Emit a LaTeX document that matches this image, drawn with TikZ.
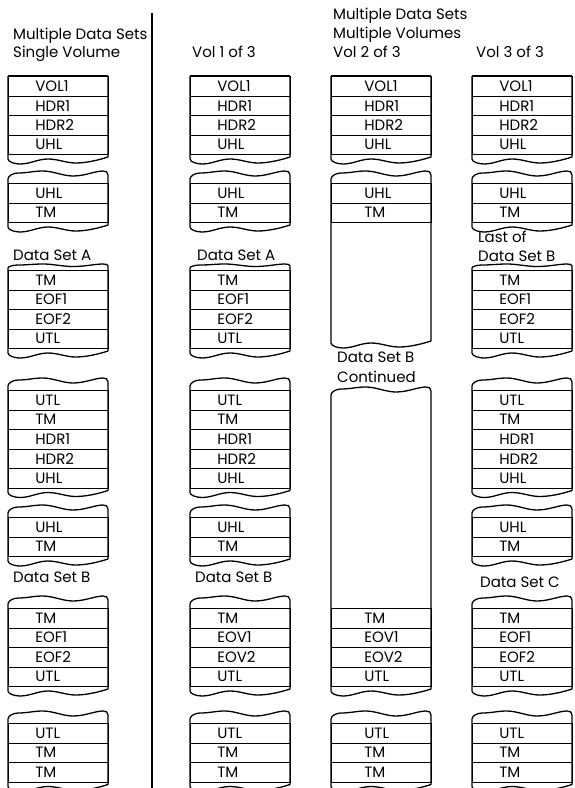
\documentclass[tikz,border=0pt]{standalone}
\usepackage{fontspec}
\setmainfont{Poppins}
\usepackage{tikz}
\usetikzlibrary{positioning}

% rows of one piece of tape, tops at 19.5pt steps
\newcommand{\rows}[4]{%
  \foreach \lab [count=\i] in {#4}
    \node[cell] (#1-\i) at (#2,{#3+19.5*(\i-1)}) {\lab};}
% torn edge above a piece of tape (#1 = depth of the tear)
\newcommand{\torntop}[3][1]{%
  \begin{scope}[shift={(#2,#3)}, yscale=#1]
  \draw[edge] (0,0) -- (0,-4) .. controls (0,-7) and (5,-10) .. (10,-10)
    .. controls (20,-10) and (25,-12) .. (35,-12)
    .. controls (45,-12) and (55,-7) .. (65,-7)
    .. controls (77,-7) and (87,-12) .. (95,-12)
    .. controls (98,-12) and (100,-11) .. (100,-8) -- (100,0);
  \end{scope}}
% sides and torn edge below
\newcommand{\tornbot}[3]{%
  \draw[edge] (#1,#2) -- (#1,#3+5) .. controls +(0,3) and +(-5,0) .. ++(12,5)
    .. controls +(10,0) and +(-10,0) .. ++(28,-5)
    .. controls +(10,0) and +(-10,0) .. ++(28,4)
    .. controls +(12,0) and +(-6,2) .. ++(32,-6) -- (#1+100,#2);}
\newcommand{\tapebox}[6][1]{\torntop[#1]{#3}{#4}\rows{#2}{#3}{#4}{#6}\tornbot{#3}{#4}{#4+19.5*#5}}

\begin{document}
\begin{tikzpicture}[x=1pt, y=-1pt,
  cell/.style={draw, line width=0.7pt, anchor=north west, minimum height=19.5pt,
               inner ysep=0pt, inner xsep=27pt, text width=46pt, align=left,
               font=\fontsize{15}{18}\selectfont},
  edge/.style={line width=1.3pt, line join=round},
  lbl/.style={anchor=base west, inner sep=0pt, font=\fontsize{15}{18}\selectfont},
  divider/.style={line width=1.3pt}
]
\useasboundingbox (0,0) rectangle (574,788);
\clip (0,0) rectangle (574,788);

% headings
\node[lbl] (hd1) at (13,39) {Multiple Data Sets};
\node[lbl] (hd2) at (13,57) {Single Volume};
\node[lbl] (hd3) at (192,57) {Vol 1 of 3};
\node[lbl] (hd4) at (333,19) {Multiple Data Sets};
\node[lbl] (hd5) at (333,38) {Multiple Volumes};
\node[lbl] (hd6) at (333,57) {Vol 2 of 3};
\node[lbl] (hd7) at (476,57) {Vol 3 of 3};

\draw[divider] (152,13) -- (152,788);

% single volume
\draw[edge] (8,76) -- (108,76);
\rows{a1}{8}{76}{VOL1,HDR1,HDR2,UHL} \tornbot{8}{76}{154}
\tapebox{a2}{8}{183}{2}{UHL,TM}
\node[lbl] (dsa1) at (13,260) {Data Set A};
\tapebox[0.5]{a3}{8}{270}{4}{TM,EOF1,EOF2,UTL}
\tapebox{a4}{8}{390}{5}{UTL,TM,HDR1,HDR2,UHL}
\tapebox{a5}{8}{517}{2}{UHL,TM}
\node[lbl] (dsb1) at (13,582) {Data Set B};
\tapebox{a6}{8}{608}{4}{TM,EOF1,EOF2,UTL}
\tapebox{a7}{8}{723}{3}{UTL,TM,TM}

% vol 1 of 3
\draw[edge] (190,76) -- (290,76);
\rows{b1}{190}{76}{VOL1,HDR1,HDR2,UHL} \tornbot{190}{76}{154}
\tapebox{b2}{190}{183}{2}{UHL,TM}
\node[lbl] (dsa2) at (197,260) {Data Set A};
\tapebox[0.5]{b3}{190}{270}{4}{TM,EOF1,EOF2,UTL}
\tapebox{b4}{190}{390}{5}{UTL,TM,HDR1,HDR2,UHL}
\tapebox{b5}{190}{517}{2}{UHL,TM}
\node[lbl] (dsb2) at (195,582) {Data Set B};
\tapebox{b6}{190}{608}{4}{TM,EOV1,EOV2,UTL}
\tapebox{b7}{190}{723}{3}{UTL,TM,TM}

% vol 2 of 3
\begin{scope}[cell/.append style={inner xsep=33pt, text width=34pt}]
\draw[edge] (331,76) -- (431,76);
\rows{c1}{331}{76}{VOL1,HDR1,HDR2,UHL} \tornbot{331}{76}{154}
\torntop{331}{183} \rows{c2}{331}{183}{UHL,TM} \tornbot{331}{183}{338}
\node[lbl] (dsb3) at (337,362) {Data Set B};
\node[lbl] (cont) at (337,382) {Continued};
\torntop{331}{399} \rows{c3}{331}{608}{TM,EOV1,EOV2,UTL} \tornbot{331}{399}{686}
\tapebox{c4}{331}{723}{3}{UTL,TM,TM}
\end{scope}

% vol 3 of 3
\draw[edge] (472,76) -- (572,76);
\rows{d1}{472}{76}{VOL1,HDR1,HDR2,UHL} \tornbot{472}{76}{154}
\tapebox{d2}{472}{183}{2}{UHL,TM}
\node[lbl] (last) at (478,242) {Last of};
\node[lbl] (dsb4) at (478,261) {Data Set B};
\tapebox[0.5]{d3}{472}{270}{4}{TM,EOF1,EOF2,UTL}
\tapebox{d4}{472}{390}{5}{UTL,TM,HDR1,HDR2,UHL}
\tapebox{d5}{472}{517}{2}{UHL,TM}
\node[lbl] (dsc) at (480,587) {Data Set C};
\tapebox{d6}{472}{608}{4}{TM,EOF1,EOF2,UTL}
\tapebox{d7}{472}{723}{3}{UTL,TM,TM}
\end{tikzpicture}
\end{document}
